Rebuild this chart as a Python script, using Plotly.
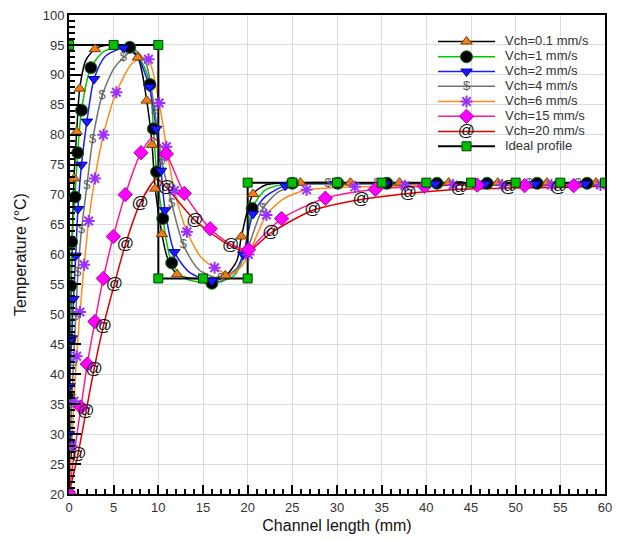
import plotly.graph_objects as go

# ---------------- data ----------------
# each series: x, y, and m (1 = a marker is drawn at that point)
v01_x = [0, 0.08, 0.25, 0.56, 0.86, 1.2, 1.9, 2.9, 4.0, 6.0, 7.7, 8.7, 9.3, 9.65, 10.4, 11.0, 12.1, 14.0, 17.5, 18.8, 19.3, 20.6, 22.0, 25.9, 31.5, 37.0, 42.5, 48.0, 53.5, 59.0, 60]
v01_y = [20, 37, 55, 72.7, 80.5, 87.7, 92.5, 94.3, 94.9, 94.8, 92.9, 85.7, 78.3, 71.0, 63.4, 59.5, 56.7, 56.0, 56.5, 59.0, 63.0, 70.1, 71.6, 72, 72, 72, 72, 72, 72, 72, 72]
v01_m = [1, 1, 1, 1, 1, 1, 0, 1, 0, 0, 1, 1, 1, 1, 1, 0, 1, 0, 1, 0, 1, 1, 0, 1, 1, 1, 1, 1, 1, 1, 0]

v1_x = [0, 0, 0.02, 0.1, 0.2, 0.3, 0.67, 0.97, 1.4, 2.45, 4.0, 6.8, 8.2, 9.05, 9.45, 9.8, 10.5, 11.5, 13.0, 16.0, 18.5, 19.6, 20.5, 22.0, 25.0, 30.1, 35.6, 41.2, 46.8, 52.4, 58.0, 60]
v1_y = [20, 28.4, 36, 45.8, 54.8, 62.1, 69.6, 77.0, 84.1, 91.2, 94.0, 94.6, 92.0, 88.4, 81.0, 73.8, 66.0, 58.6, 56.0, 55.2, 56.5, 60.0, 67.7, 70.8, 71.9, 71.9, 71.9, 71.9, 71.9, 71.9, 71.9, 71.9]
v1_m = [1, 1, 1, 1, 1, 1, 1, 1, 1, 1, 0, 1, 0, 1, 1, 1, 1, 1, 0, 1, 0, 0, 1, 0, 1, 1, 1, 1, 1, 1, 1, 0]

v2_x = [0, 0, 0.05, 0.3, 0.5, 0.75, 1.0, 1.4, 2.0, 2.8, 4.0, 6.1, 7.5, 9.0, 9.75, 10.3, 10.75, 11.8, 13.5, 16.0, 18.5, 19.5, 20.6, 22.0, 24.2, 27.0, 29.8, 35.4, 41.0, 46.6, 52.2, 57.8, 60]
v2_y = [20, 30, 38, 46, 52.6, 59.8, 67.6, 75.0, 82.2, 89.3, 93.0, 94.5, 93.5, 88.0, 81.0, 74.0, 67.4, 60.4, 57.0, 55.6, 57.0, 60.0, 66.8, 69.7, 71.5, 71.8, 71.8, 71.8, 71.8, 71.8, 71.8, 71.8, 71.8]
v2_m = [1, 1, 1, 1, 1, 1, 1, 1, 1, 1, 0, 1, 0, 1, 1, 1, 1, 1, 0, 1, 0, 1, 1, 0, 1, 0, 1, 1, 1, 1, 1, 1, 0]

v4_x = [0, 0.1, 0.3, 0.5, 0.75, 1.0, 1.4, 2.0, 2.65, 3.7, 5.0, 6.1, 7.3, 8.6, 9.6, 10.4, 11.5, 12.8, 14.5, 17.0, 19.0, 20.0, 21.7, 23.5, 26.2, 29.0, 34.5, 40.0, 45.5, 51.5, 57.0, 60]
v4_y = [20, 27, 35, 42, 49.6, 57.0, 64.1, 71.5, 79.1, 86.5, 91.0, 92.9, 94.2, 92.0, 84.0, 75.6, 68.5, 61.6, 57.5, 56.0, 58.0, 61.0, 67.7, 70.5, 71.7, 71.8, 71.8, 71.8, 71.8, 71.8, 71.8, 71.8]
v4_m = [0, 0, 1, 1, 1, 1, 1, 1, 1, 1, 0, 1, 0, 0, 1, 1, 1, 1, 0, 1, 0, 0, 1, 0, 0, 1, 1, 1, 1, 1, 1, 0]

v6_x = [0, 0.3, 0.55, 0.86, 1.23, 1.7, 2.2, 2.9, 3.85, 5.3, 7.0, 8.1, 8.9, 10.1, 10.9, 11.8, 13.2, 14.8, 16.3, 18.0, 19.3, 20.1, 22.1, 24.0, 26.6, 32.0, 37.6, 43.0, 48.5, 54.0, 59.5, 60]
v6_y = [20, 28, 35.5, 43, 50.4, 58.3, 65.6, 72.7, 80.0, 87.1, 91.8, 92.8, 92.6, 85.3, 78.0, 70.7, 63.8, 59.5, 57.8, 56.6, 58.0, 60.0, 66.6, 69.3, 70.8, 71.3, 71.5, 71.6, 71.6, 71.6, 71.6, 71.6]
v6_m = [1, 1, 1, 1, 1, 1, 1, 1, 1, 1, 0, 0, 1, 1, 1, 1, 1, 0, 1, 0, 0, 1, 1, 0, 1, 1, 1, 1, 1, 1, 1, 0]

v15_x = [0, 0.6, 1.34, 2.05, 2.9, 3.84, 4.96, 6.3, 8.06, 9.4, 10.9, 12.9, 15.8, 18.0, 20.1, 21.5, 23.8, 28.7, 34.3, 39.8, 45.7, 51.0, 56.5, 60]
v15_y = [20, 27, 34.5, 41.7, 48.8, 56.0, 63.0, 70.0, 77.0, 79.5, 76.8, 70.2, 64.3, 61.8, 60.8, 62.8, 66.0, 69.4, 70.9, 71.4, 71.6, 71.5, 71.5, 71.6]
v15_m = [1, 0, 1, 1, 1, 1, 1, 1, 1, 0, 1, 1, 1, 0, 1, 0, 1, 1, 1, 1, 1, 1, 1, 0]

v20_x = [0, 1.0, 1.9, 2.8, 3.84, 5.07, 6.3, 7.95, 9.8, 10.9, 14.1, 18.1, 20.0, 22.6, 27.3, 32.7, 38.0, 43.7, 49.2, 54.8, 60]
v20_y = [20, 26.6, 33.7, 40.8, 48.0, 55.0, 61.6, 68.5, 72.6, 71.2, 65.7, 61.4, 60.5, 63.6, 67.4, 69.2, 70.2, 70.9, 71.1, 71.2, 71.4]
v20_m = [0, 1, 1, 1, 1, 1, 1, 1, 0, 1, 1, 1, 0, 1, 1, 1, 1, 1, 1, 1, 0]

ideal_x = [0, 0, 5, 10, 10, 15, 20, 20, 25, 30, 35, 40, 45, 50, 55, 60]
ideal_y = [20, 95, 95, 95, 56, 56, 56, 72, 72, 72, 72, 72, 72, 72, 72, 72]
ideal_m = [0, 1, 1, 1, 1, 1, 1, 1, 1, 1, 1, 1, 1, 1, 1, 1]

names = ["Vch=0.1 mm/s", "Vch=1 mm/s", "Vch=2 mm/s", "Vch=4 mm/s",
         "Vch=6 mm/s", "Vch=15 mm/s", "Vch=20 mm/s", "Ideal profile"]

x_ticks = list(range(0, 61, 5))
y_ticks = list(range(20, 101, 5))

# ---------------- styles ----------------
series = [
    (v01_x, v01_y, v01_m, dict(line="#000000", kind="marker", symbol="triangle-up", size=10, fill="#f07d1a", edge="#7a3c00")),
    (v1_x, v1_y, v1_m, dict(line="#00c800", kind="marker", symbol="circle", size=12, fill="#000000", edge="#1a6b1a")),
    (v2_x, v2_y, v2_m, dict(line="#1a1aff", kind="marker", symbol="triangle-down", size=10, fill="#1a1aff", edge="#0000a0")),
    (v4_x, v4_y, v4_m, dict(line="#707070", kind="text", text="$", size=13, fill="#606060")),
    (v6_x, v6_y, v6_m, dict(line="#ff8c1a", kind="marker", symbol="asterisk-open", size=10, fill="#9b30ff", edge="#9b30ff")),
    (v15_x, v15_y, v15_m, dict(line="#ff1a8c", kind="marker", symbol="diamond", size=11, fill="#ff00ff", edge="#b000b0")),
    (v20_x, v20_y, v20_m, dict(line="#e00000", kind="text", text="@", size=17, fill="#111111")),
    (ideal_x, ideal_y, ideal_m, dict(line="#000000", kind="marker", symbol="square", size=9, fill="#00c000", edge="#004000")),
]

FONT = "Liberation Sans, Arial, sans-serif"
fig = go.Figure()

for (xs, ys, ms, st), nm in zip(series, names):
    is_ideal = nm == "Ideal profile"
    fig.add_trace(go.Scatter(
        x=xs, y=ys, mode="lines", name=nm, showlegend=False, hoverinfo="skip",
        line=dict(color=st["line"], width=2 if is_ideal else 1.5,
                  shape="linear" if is_ideal else "spline", smoothing=0.7)))
for (xs, ys, ms, st), nm in zip(series, names):
    mx = [a for a, k in zip(xs, ms) if k]
    my = [b for b, k in zip(ys, ms) if k]
    if st["kind"] == "marker":
        lw = 2 if st["symbol"] == "asterisk-open" else 1
        fig.add_trace(go.Scatter(
            x=mx, y=my, mode="markers", name=nm, showlegend=False,
            marker=dict(symbol=st["symbol"], size=st["size"], color=st["fill"],
                        line=dict(color=st["edge"], width=lw))))
    else:
        fig.add_trace(go.Scatter(
            x=mx, y=my, mode="text", name=nm, showlegend=False,
            text=[st["text"]] * len(mx), textposition="middle center",
            textfont=dict(family=FONT, size=st["size"], color=st["fill"])))

# ---------------- manual legend on a pixel-coordinate overlay axis ----------------
leg_rows = [35, 50.5, 65.5, 80.5, 96, 111, 126.5, 141.5]
LX0, LX1, LXM, LXT = 438, 495, 466.5, 505
for (xs, ys, ms, st), nm, ry in zip(series, names, leg_rows):
    is_ideal = nm == "Ideal profile"
    fig.add_trace(go.Scatter(
        x=[LX0, LX1], y=[ry, ry], xaxis="x2", yaxis="y2", mode="lines",
        showlegend=False, hoverinfo="skip",
        line=dict(color=st["line"], width=2 if is_ideal else 1.5)))
    if st["kind"] == "marker":
        lw = 2 if st["symbol"] == "asterisk-open" else 1
        fig.add_trace(go.Scatter(
            x=[LXM], y=[ry], xaxis="x2", yaxis="y2", mode="markers",
            showlegend=False, hoverinfo="skip",
            marker=dict(symbol=st["symbol"], size=st["size"], color=st["fill"],
                        line=dict(color=st["edge"], width=lw))))
    else:
        fig.add_trace(go.Scatter(
            x=[LXM], y=[ry], xaxis="x2", yaxis="y2", mode="text",
            showlegend=False, hoverinfo="skip", text=[st["text"]],
            textposition="middle center",
            textfont=dict(family=FONT, size=st["size"], color=st["fill"])))
    fig.add_trace(go.Scatter(
        x=[LXT], y=[ry], xaxis="x2", yaxis="y2", mode="text",
        showlegend=False, hoverinfo="skip", text=[nm],
        textposition="middle right",
        textfont=dict(family=FONT, size=13, color="#333333")))

fig.update_layout(
    width=625, height=540,
    margin=dict(l=69, r=20, t=8, b=45),
    paper_bgcolor="white", plot_bgcolor="white",
    font=dict(family=FONT, size=13, color="#333333"),
    showlegend=False,
    xaxis=dict(range=[0, 60], tickvals=x_ticks, ticktext=[str(v) for v in x_ticks],
               ticks="inside", ticklen=9, tickwidth=2, tickcolor="black",
               minor=dict(dtick=1, ticks="inside", ticklen=5, tickwidth=1.5, tickcolor="black", showgrid=False),
               showline=True, linecolor="black", linewidth=2, mirror=True,
               showgrid=True, gridcolor="#dcdcdc", gridwidth=1, zeroline=False,
               title=dict(text="Channel length (mm)", font=dict(size=16, color="#111111"), standoff=6)),
    yaxis=dict(range=[20, 100], tickvals=y_ticks, ticktext=[str(v) for v in y_ticks],
               ticks="inside", ticklen=12, tickwidth=2, tickcolor="black",
               minor=dict(dtick=1, ticks="inside", ticklen=6, tickwidth=1.5, tickcolor="black", showgrid=False),
               showline=True, linecolor="black", linewidth=2, mirror=True,
               showgrid=True, gridcolor="#dcdcdc", gridwidth=1, zeroline=False,
               title=dict(text="Temperature (°C)", font=dict(size=16, color="#111111"), standoff=12)),
    xaxis2=dict(overlaying="x", range=[69, 605], visible=False, fixedrange=True),
    yaxis2=dict(overlaying="y", range=[495, 8], visible=False, fixedrange=True),
)

fig.write_html("out.html")
